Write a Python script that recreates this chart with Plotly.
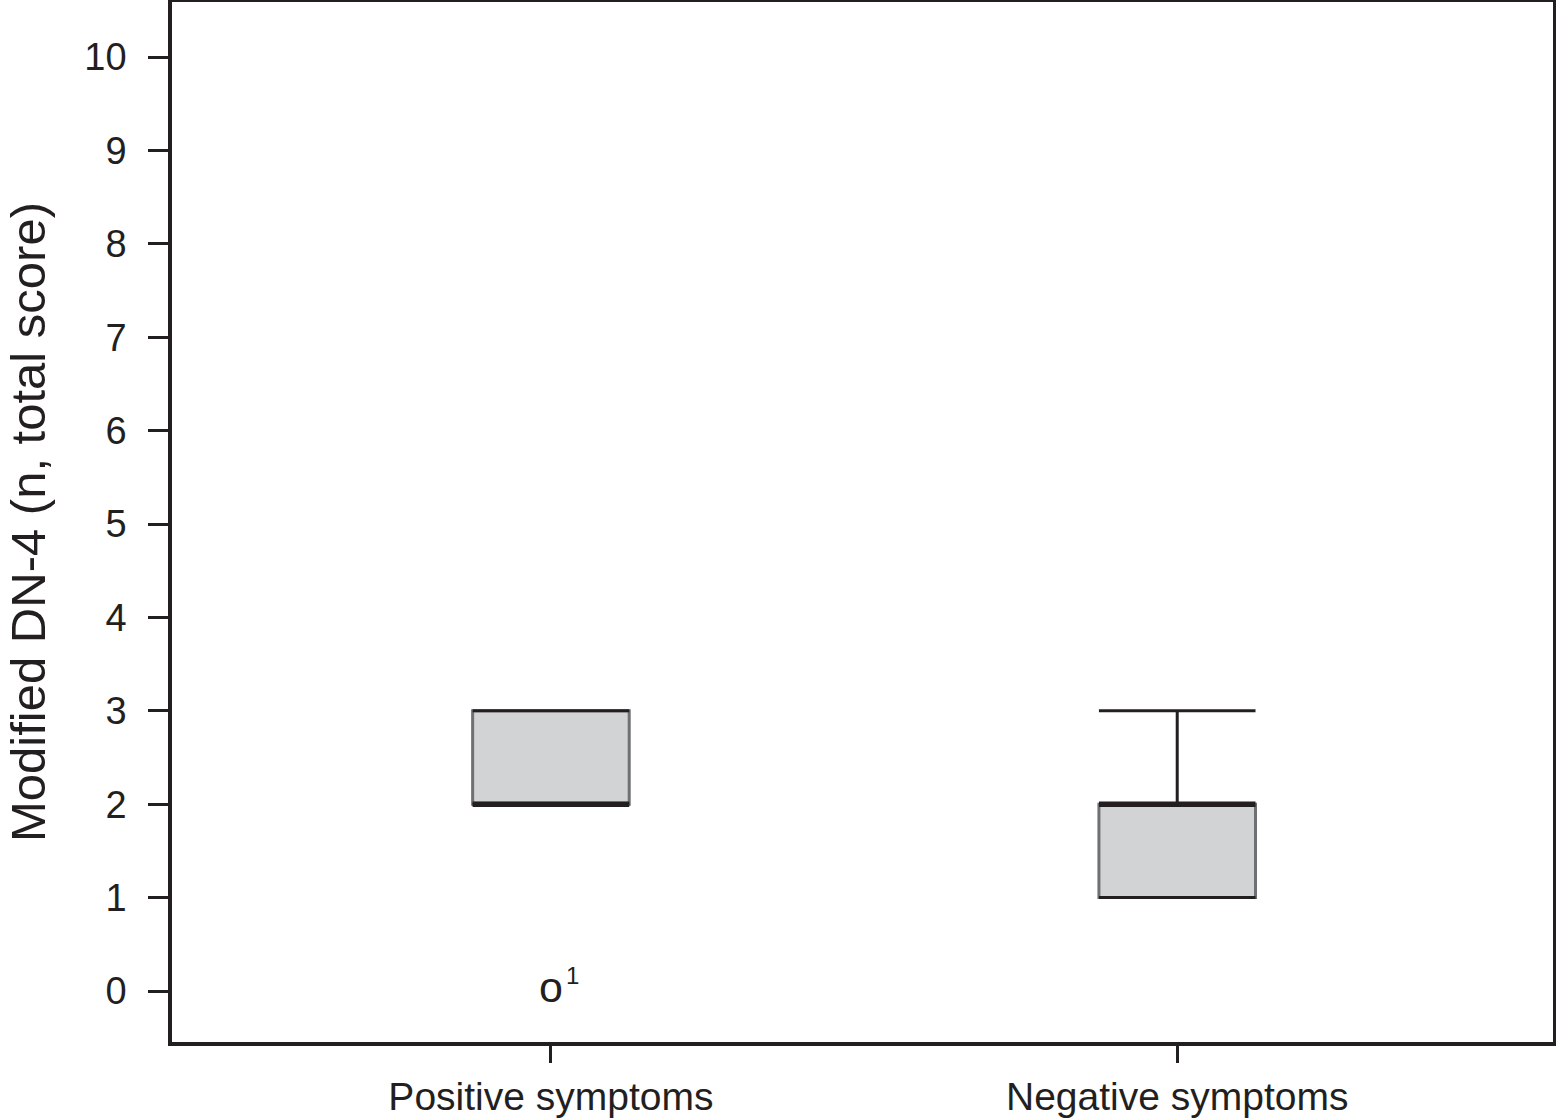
import plotly.graph_objects as go

# ---- data ----
categories = ["Positive symptoms", "Negative symptoms"]
q1 = [2, 1]
median = [2, 2]
q3 = [3, 2]
lower_whisker = [2, 1]
upper_whisker = [3, 3]
outlier_x = ["Positive symptoms"]
outlier_y = [0]
outlier_label = ["1"]
y_ticks = list(range(0, 11))

FONT = "Liberation Sans, Arial, Helvetica, sans-serif"
BOX_W = 0.25
CAP_W = 0.125
BLACK = "#231f20"
GREY = "#6f7073"
FILL = "#d1d3d4"

pos = {c: i for i, c in enumerate(categories)}

fig = go.Figure()

for i, c in enumerate(categories):
    x0 = pos[c]
    # box body
    fig.add_trace(go.Box(
        x=[x0], q1=[q1[i]], median=[median[i]], q3=[q3[i]],
        lowerfence=[q1[i]], upperfence=[q3[i]],
        width=BOX_W, fillcolor=FILL, line=dict(color=GREY, width=3),
        whiskerwidth=0, showlegend=False, hoverinfo="skip",
    ))
    # whiskers (vertical)
    if upper_whisker[i] > q3[i]:
        fig.add_trace(go.Scatter(x=[x0, x0], y=[q3[i], upper_whisker[i]], mode="lines",
                                 line=dict(color=BLACK, width=3), showlegend=False, hoverinfo="skip"))
    if lower_whisker[i] < q1[i]:
        fig.add_trace(go.Scatter(x=[x0, x0], y=[lower_whisker[i], q1[i]], mode="lines",
                                 line=dict(color=BLACK, width=3), showlegend=False, hoverinfo="skip"))
    # whisker caps
    for w in (upper_whisker[i], lower_whisker[i]):
        fig.add_trace(go.Scatter(x=[x0 - CAP_W, x0 + CAP_W], y=[w, w], mode="lines",
                                 line=dict(color=BLACK, width=3), showlegend=False, hoverinfo="skip"))
    # median
    fig.add_trace(go.Scatter(x=[x0 - BOX_W / 2, x0 + BOX_W / 2], y=[median[i], median[i]], mode="lines",
                             line=dict(color=BLACK, width=5.5), showlegend=False, hoverinfo="skip"))

# outliers
fig.add_trace(go.Scatter(x=[pos[c] for c in outlier_x], y=outlier_y, mode="text", text=["o"] * len(outlier_x),
                         textposition="middle center",
                         textfont=dict(family=FONT, size=43, color=BLACK),
                         showlegend=False, hoverinfo="skip"))
for c, yv, lab in zip(outlier_x, outlier_y, outlier_label):
    fig.add_annotation(x=pos[c], y=yv, text=lab, showarrow=False, xshift=22, yshift=16,
                       font=dict(family=FONT, size=24, color=BLACK))

fig.update_layout(
    width=1556, height=1120,
    margin=dict(l=172, r=3, t=2, b=78),
    paper_bgcolor="white", plot_bgcolor="white",
    font=dict(family=FONT, color=BLACK),
)
fig.update_xaxes(
    range=[-0.605, 1.6], tickmode="array", tickvals=list(range(len(categories))), ticktext=categories,
    showgrid=False, zeroline=False, showline=True, linecolor=BLACK, linewidth=3.5, mirror=True,
    ticks="outside", ticklen=17, tickwidth=3, tickcolor=BLACK, automargin=False,
    tickfont=dict(family=FONT, size=39, color=BLACK), ticklabelstandoff=0,
)
fig.update_yaxes(
    range=[-0.546, 10.589], tickmode="array", tickvals=y_ticks,
    showgrid=False, zeroline=False, showline=True, linecolor=BLACK, linewidth=3.5, mirror=True,
    ticks="outside", ticklen=20, tickwidth=3, tickcolor=BLACK, automargin=False,
    tickfont=dict(family=FONT, size=38, color=BLACK), ticklabelstandoff=14,
    title=dict(text="Modified DN-4 (n, total score)", font=dict(family=FONT, size=49, color=BLACK), standoff=24),
)

fig.write_html("out.html", config={"displayModeBar": False},
               post_script="document.body.style.margin='0px';")
